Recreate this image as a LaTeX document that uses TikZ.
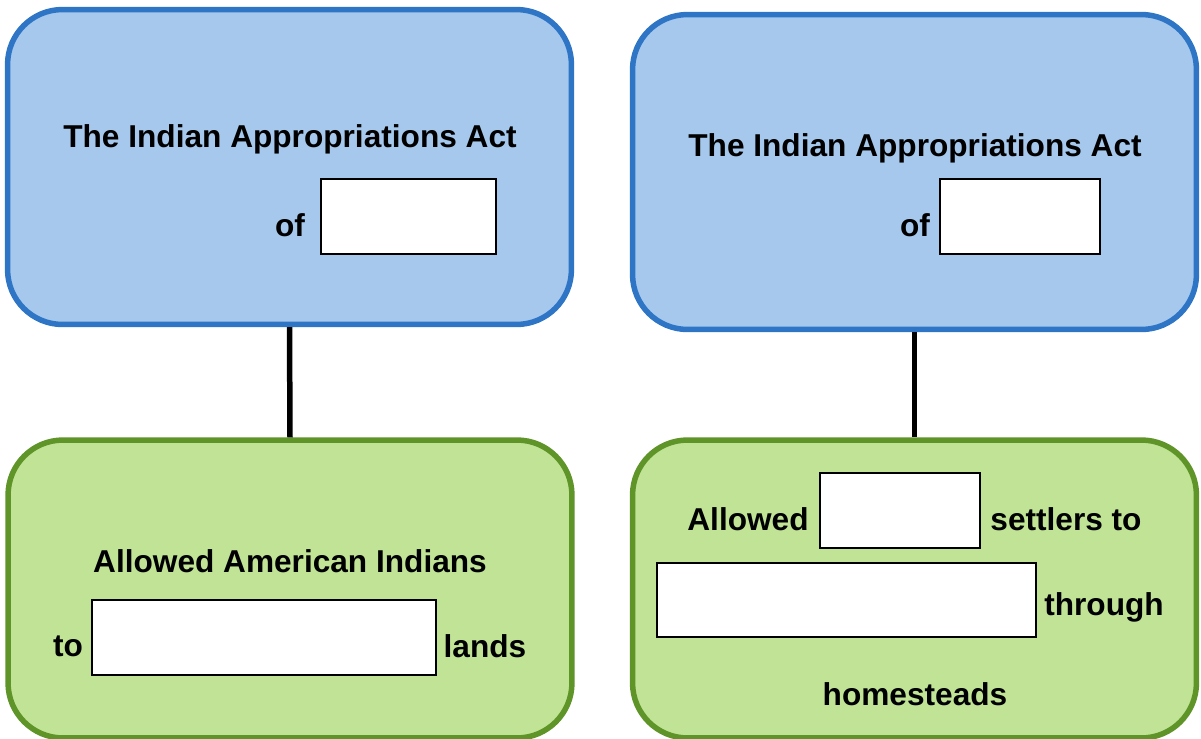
\documentclass[tikz,border=0pt]{standalone}
\usepackage{fontspec}
\setmainfont{Liberation Sans}
\definecolor{bluefill}{HTML}{A5C8EC}
\definecolor{blueline}{HTML}{2E75C6}
\definecolor{greenfill}{HTML}{C0E396}
\definecolor{greenline}{HTML}{5F9428}
\begin{document}
\begin{tikzpicture}[x=0.02cm,y=-0.02cm,
  bluebox/.style={draw=blueline,fill=bluefill,line width=0.11cm,rounded corners=1.1cm,
    minimum width=11.28cm,minimum height=6.3cm,inner sep=0pt},
  greenbox/.style={draw=greenline,fill=greenfill,line width=0.11cm,rounded corners=1.1cm,
    minimum width=11.28cm,minimum height=5.96cm,inner sep=0pt},
  blank/.style={draw=black,fill=white,line width=0.04cm,inner sep=0pt,minimum height=1.5cm},
  lbl/.style={font=\fontsize{18}{21}\selectfont\bfseries,inner sep=0pt},
  link/.style={draw=black,line width=0.11cm}]
\useasboundingbox (0,0) rectangle (1201,738);
% boxes
\node[bluebox] (lb) at (289.5,167) {};
\node[bluebox] (rb) at (914.5,172) {};
\node[greenbox] (lg) at (290,589) {};
\node[greenbox] (rg) at (914.5,589) {};
% connectors
\draw[link] (lb.south) -- (lg.north);
\draw[link] (rb.south) -- (rg.north);
% left blue
\node[lbl] (lt) at (290,139) {The Indian Appropriations Act};
\node[lbl] (lof) at (290,225) {of};
\node[blank,minimum width=3.5cm] (lofbox) at (408.5,216.5) {};
% right blue
\node[lbl] (rt) at (915,148) {The Indian Appropriations Act};
\node[lbl] (rof) at (915,225) {of};
\node[blank,minimum width=3.2cm] (rofbox) at (1020,216.5) {};
% left green
\node[lbl] (la) at (290,561) {Allowed American Indians};
\node[lbl] (lto) at (68,646) {to};
\node[blank,minimum width=6.88cm] (ltobox) at (264,637.5) {};
\node[lbl] (llands) at (485,646) {lands};
% right green
\node[lbl] (ra) at (748,519) {Allowed};
\node[blank,minimum width=3.2cm] (rabox) at (900,510.5) {};
\node[lbl] (rs) at (1066,519) {settlers to};
\node[blank,minimum width=7.58cm,minimum height=1.48cm] (rbig) at (846.5,600) {};
\node[lbl] (rthr) at (1104,607) {through};
\node[lbl] (rh) at (915,694) {homesteads};
\end{tikzpicture}
\end{document}
